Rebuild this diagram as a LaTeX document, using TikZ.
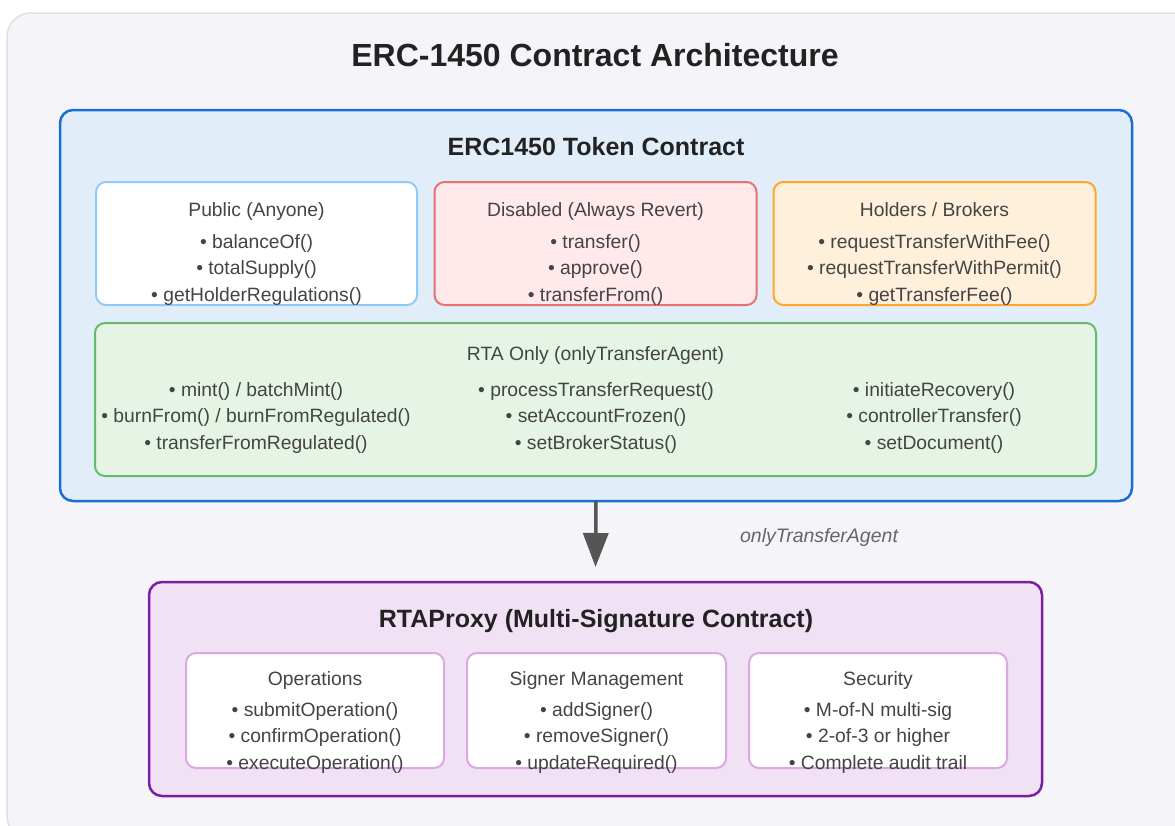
\documentclass[tikz,border=0pt]{standalone}
\usepackage{fontspec}
\setmainfont{Liberation Sans}
\usetikzlibrary{arrows.meta}
\definecolor{outerfill}{HTML}{F5F5F9}
\definecolor{outerline}{HTML}{DDE0E4}
\definecolor{bluefill}{HTML}{E1EEFA}
\definecolor{blueline}{HTML}{1A6ED2}
\definecolor{publine}{HTML}{90CAF9}
\definecolor{disfill}{HTML}{FFE9EB}
\definecolor{disline}{HTML}{E57373}
\definecolor{holdfill}{HTML}{FFF0DC}
\definecolor{holdline}{HTML}{FFA726}
\definecolor{greenfill}{HTML}{E6F4E5}
\definecolor{greenline}{HTML}{66BB6A}
\definecolor{purpfill}{HTML}{F1E1F4}
\definecolor{purpline}{HTML}{7B1FA2}
\definecolor{lpurpline}{HTML}{DAA8E2}
\definecolor{itemgray}{HTML}{444444}
\definecolor{headgray}{HTML}{222222}
\definecolor{arrowgray}{HTML}{555555}
\definecolor{labelgray}{HTML}{666666}
\begin{document}
\begin{tikzpicture}[x=1pt,y=-1pt,
  bigbox/.style={draw, line width=2.5pt, rounded corners=13pt, inner sep=0pt, outer sep=0pt},
  subbox/.style={draw, line width=2pt, rounded corners=10pt, inner sep=0pt, outer sep=0pt},
  item/.style={anchor=base, inner sep=0pt, text=itemgray, font=\fontsize{19.3}{22}\selectfont},
  heading/.style={anchor=base, inner sep=0pt, text=headgray, font=\bfseries\fontsize{25}{29}\selectfont},
  arr/.style={draw=arrowgray, line width=3.5pt, -{Triangle[length=34pt,width=25pt]}}
]
\useasboundingbox (0,0) rectangle (1175,825);
\fill[white] (0,0) rectangle (1175,825);
\draw[fill=outerfill, draw=outerline, line width=1.5pt, rounded corners=24pt] (7,13) rectangle (1195,840);

\node[anchor=base, inner sep=0pt, text=headgray, font=\bfseries\fontsize{32}{37}\selectfont] (title) at (595,66) {ERC-1450 Contract Architecture};

% ERC1450 token contract
\node[bigbox, fill=bluefill, draw=blueline, minimum width=1072pt, minimum height=391pt] (blue) at (596,305.5) {};
\node[heading] (bluetitle) at (596,155) {ERC1450 Token Contract};

\node[subbox, fill=white, draw=publine, minimum width=321pt, minimum height=123pt] (pub) at (256.5,243.5) {};
\node[subbox, fill=disfill, draw=disline, minimum width=322pt, minimum height=123pt] (dis) at (595.5,243.5) {};
\node[subbox, fill=holdfill, draw=holdline, minimum width=322pt, minimum height=123pt] (hold) at (934.5,243.5) {};

\node[item] (pubt) at (256.5,216.5) {Public (Anyone)};
\foreach \t [count=\i] in {{• balanceOf()},{• totalSupply()},{• getHolderRegulations()}}
  \node[item] (pub\i) at (256.5,221.5+26.5*\i) {\t};

\node[item] (dist) at (595.5,216.5) {Disabled (Always Revert)};
\foreach \t [count=\i] in {{• transfer()},{• approve()},{• transferFrom()}}
  \node[item] (dis\i) at (595.5,221.5+26.5*\i) {\t};

\node[item] (holdt) at (934.5,216.5) {Holders / Brokers};
\foreach \t [count=\i] in {{• requestTransferWithFee()},{• requestTransferWithPermit()},{• getTransferFee()}}
  \node[item] (hold\i) at (934.5,221.5+26.5*\i) {\t};

\node[subbox, fill=greenfill, draw=greenline, minimum width=1001pt, minimum height=153pt] (rta) at (595.5,399.5) {};
\node[item] (rtat) at (595.5,360) {RTA Only (onlyTransferAgent)};
\foreach \t [count=\i] in {{• mint() / batchMint()},{• burnFrom() / burnFromRegulated()},{• transferFromRegulated()}}
  \node[item] (rtaa\i) at (256,369.5+26.5*\i) {\t};
\foreach \t [count=\i] in {{• processTransferRequest()},{• setAccountFrozen()},{• setBrokerStatus()}}
  \node[item] (rtab\i) at (596,369.5+26.5*\i) {\t};
\foreach \t [count=\i] in {{• initiateRecovery()},{• controllerTransfer()},{• setDocument()}}
  \node[item] (rtac\i) at (934,369.5+26.5*\i) {\t};

% RTAProxy
\node[bigbox, fill=purpfill, draw=purpline, minimum width=893pt, minimum height=214pt] (proxy) at (595.5,689) {};
\node[heading] (proxyt) at (596,627) {RTAProxy (Multi-Signature Contract)};

\node[subbox, fill=white, draw=lpurpline, minimum width=258pt, minimum height=115pt] (ops) at (315,710.5) {};
\node[subbox, fill=white, draw=lpurpline, minimum width=259pt, minimum height=115pt] (sig) at (596.5,710.5) {};
\node[subbox, fill=white, draw=lpurpline, minimum width=258pt, minimum height=115pt] (sec) at (878,710.5) {};

\node[item] (opst) at (315,685) {Operations};
\foreach \t [count=\i] in {{• submitOperation()},{• confirmOperation()},{• executeOperation()}}
  \node[item] (ops\i) at (315,689.5+26.5*\i) {\t};
\node[item] (sigt) at (596.5,685) {Signer Management};
\foreach \t [count=\i] in {{• addSigner()},{• removeSigner()},{• updateRequired()}}
  \node[item] (sig\i) at (596.5,689.5+26.5*\i) {\t};
\node[item] (sect) at (878,685) {Security};
\foreach \t [count=\i] in {{• M-of-N multi-sig},{• 2-of-3 or higher},{• Complete audit trail}}
  \node[item] (sec\i) at (878,689.5+26.5*\i) {\t};

% connector
\draw[arr] (blue.south) -- ([yshift=15pt]proxy.north);
\node[anchor=base, inner sep=0pt, text=labelgray, font=\itshape\fontsize{19.5}{23}\selectfont] (lbl) at (819,542) {onlyTransferAgent};
\end{tikzpicture}
\end{document}
